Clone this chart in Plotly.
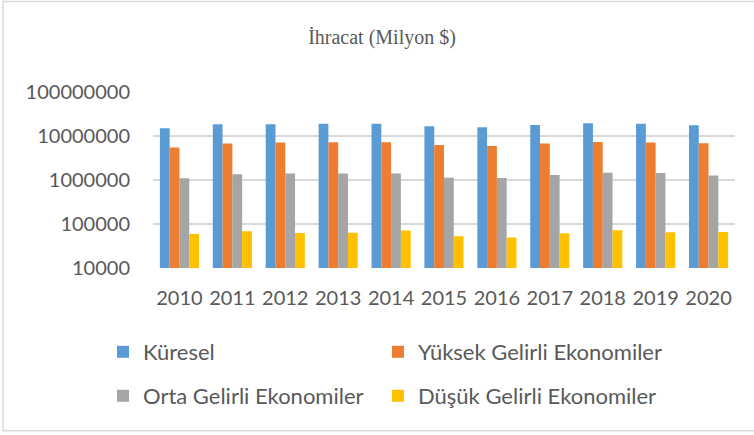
import plotly.graph_objects as go

years = ["2010", "2011", "2012", "2013", "2014", "2015", "2016", "2017", "2018", "2019", "2020"]
kuresel = [15100000, 18500000, 18500000, 19100000, 19100000, 16600000, 15800000, 17800000, 19400000, 19100000, 17500000]
yuksek = [5450000, 6720000, 7080000, 7190000, 7190000, 6240000, 5930000, 6720000, 7310000, 7080000, 6830000]
orta = [1090000, 1350000, 1400000, 1400000, 1400000, 1130000, 1110000, 1300000, 1470000, 1440000, 1260000]
dusuk = [59300, 68200, 62400, 63400, 70800, 52600, 49100, 61500, 71900, 64800, 65800]

series_names = ["Küresel", "Yüksek Gelirli Ekonomiler", "Orta Gelirli Ekonomiler", "Düşük Gelirli Ekonomiler"]
series_vals = [kuresel, yuksek, orta, dusuk]
colors = ["#5B9BD5", "#ED7D31", "#A5A5A5", "#FFC000"]
legends = ["legend", "legend2", "legend3", "legend4"]

y_tickvals = [10000, 100000, 1000000, 10000000, 100000000]
y_ticktext = ["10000", "100000", "1000000", "10000000", "100000000"]
title_text = "İhracat (Milyon $)"

W, H = 754, 435
L, R, T, B = 153, 19, 92, 167
pw, ph = W - L - R, H - T - B

def px_x(p):
    return (p - L) / pw

def px_y(p):
    return (H - B - p) / ph

fig = go.Figure()
for name, vals, c, lg in zip(series_names, series_vals, colors, legends):
    fig.add_trace(go.Bar(x=years, y=vals, name=name, marker=dict(color=c, line=dict(width=0)),
                         legend=lg, showlegend=True))

font_main = "Lato, 'Open Sans', sans-serif"

def leg(xp, yp):
    return dict(orientation="h", x=px_x(xp), xanchor="left", y=px_y(yp), yanchor="middle",
                bgcolor="rgba(0,0,0,0)", font=dict(size=22, color="#595959"), itemclick=False)

fig.update_layout(
    width=W, height=H, showlegend=True,
    margin=dict(l=L, r=R, t=T, b=B, autoexpand=False),
    paper_bgcolor="white", plot_bgcolor="white",
    barmode="group", bargap=0.26, bargroupgap=0,
    font=dict(family=font_main, size=20, color="#595959"),
    title=dict(text=title_text, x=382 / W, xanchor="center", xref="container",
               y=1 - 37 / H, yanchor="middle", yref="container",
               font=dict(family="'Liberation Serif', 'Times New Roman', serif", size=20, color="#595959")),
    xaxis=dict(showgrid=False, showline=False, ticks="", tickfont=dict(size=20),
               ticklabelstandoff=16),
    yaxis=dict(type="log", range=[4, 8], tickmode="array", tickvals=y_tickvals, ticktext=y_ticktext,
               showgrid=True, gridcolor="#d9d9d9", gridwidth=1.5, zeroline=False, showline=False,
               ticks="", tickfont=dict(size=20), ticklabelstandoff=22),
    legend=leg(103, 352),
    legend2=leg(378, 352),
    legend3=leg(103, 396),
    legend4=leg(378, 396),
    shapes=[dict(type="rect", xref="paper", yref="paper",
                 x0=px_x(3), x1=px_x(758), y0=px_y(430.7), y1=px_y(1.5),
                 line=dict(color="#d9d9d9", width=1.5), fillcolor="rgba(0,0,0,0)", layer="below")],
)

fig.write_html("out.html", config={"displayModeBar": False},
               post_script="document.body.style.margin='0';")
